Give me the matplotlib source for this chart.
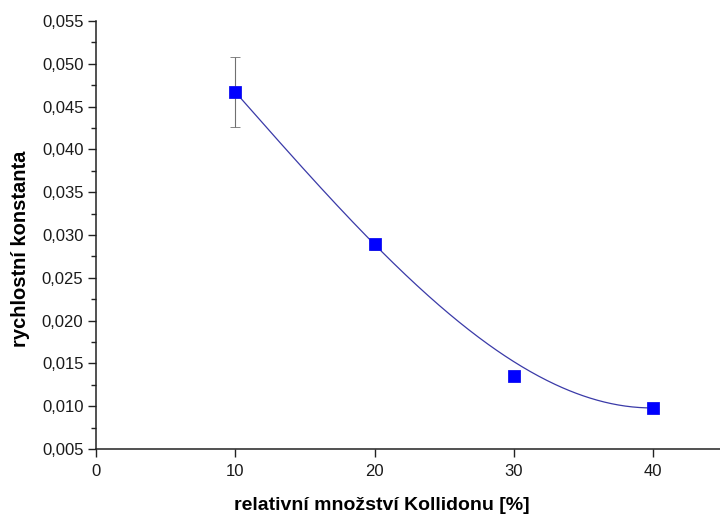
import numpy as np
import matplotlib
matplotlib.use("Agg")
import matplotlib.pyplot as plt
from matplotlib.ticker import MultipleLocator, FixedLocator

plt.rcParams['font.family'] = ['Liberation Sans', 'DejaVu Sans']

# Measured rate constants vs. relative Kollidon content
kollidon_pct = [10, 20, 30, 40]
rate_const = [0.0467, 0.0289, 0.01353, 0.00979]
rate_err = [0.0041, 0.0006, 0.0005, 0.0002]

# Values of the fitted trend curve at the measured concentrations
fit_at_x = [0.0467, 0.0289, 0.0152, 0.0098]

y_ticks = [0.005, 0.010, 0.015, 0.020, 0.025, 0.030, 0.035, 0.040, 0.045, 0.050, 0.055]
y_tick_labels = ["0,005", "0,010", "0,015", "0,020", "0,025", "0,030",
                 "0,035", "0,040", "0,045", "0,050", "0,055"]
x_ticks = [0, 10, 20, 30, 40]
x_tick_labels = ["0", "10", "20", "30", "40"]

fig = plt.figure(figsize=(7.2, 5.19), dpi=100)
ax = fig.add_axes([96 / 720, 70 / 519, 624 / 720, 428 / 519])

# Smooth cubic trend through the fitted values
coef = np.polyfit(kollidon_pct, fit_at_x, 3)
xs = np.linspace(kollidon_pct[0], kollidon_pct[-1], 300)
ax.plot(xs, np.polyval(coef, xs), color='#3a3aa8', lw=0.9, zorder=2)

ax.errorbar(kollidon_pct, rate_const, yerr=rate_err, fmt='s', color='#0000ff',
            markersize=8.4, markeredgecolor='#1010f0', markeredgewidth=0.6,
            ecolor='#707070', elinewidth=0.8, capsize=3.4, capthick=0.8, zorder=3)

ax.set_xlim(0, 44.8)
ax.set_ylim(0.005, 0.055)

for side in ('top', 'right'):
    ax.spines[side].set_visible(False)
for side in ('left', 'bottom'):
    ax.spines[side].set_linewidth(1.1)
    ax.spines[side].set_color('#222222')

ax.yaxis.set_major_locator(FixedLocator(y_ticks))
ax.set_yticklabels(y_tick_labels)
ax.yaxis.set_minor_locator(MultipleLocator(0.0025))
ax.xaxis.set_major_locator(FixedLocator(x_ticks))
ax.set_xticklabels(x_tick_labels)

ax.tick_params(axis='both', which='major', direction='out', length=6, width=1.0,
               labelsize=12, colors='#222222', labelcolor='#1a1a1a')
ax.tick_params(axis='y', which='minor', direction='out', length=3.5, width=1.0,
               colors='#222222')
ax.tick_params(axis='x', which='major', pad=5)
ax.tick_params(axis='y', which='major', pad=3)

ax.set_xlabel("relativní množství Kollidonu [%]", fontsize=14, fontweight='bold')
ax.set_ylabel("rychlostní konstanta", fontsize=14.5, fontweight='bold')
ax.xaxis.set_label_coords((382 - 96) / 624, -(505 - 449) / 428)
ax.yaxis.set_label_coords(-(96 - 21) / 624, (449 - 249) / 428)
ax.xaxis.label.set_va('center')
ax.yaxis.label.set_va('center')

fig.savefig("out.png", dpi=100)
